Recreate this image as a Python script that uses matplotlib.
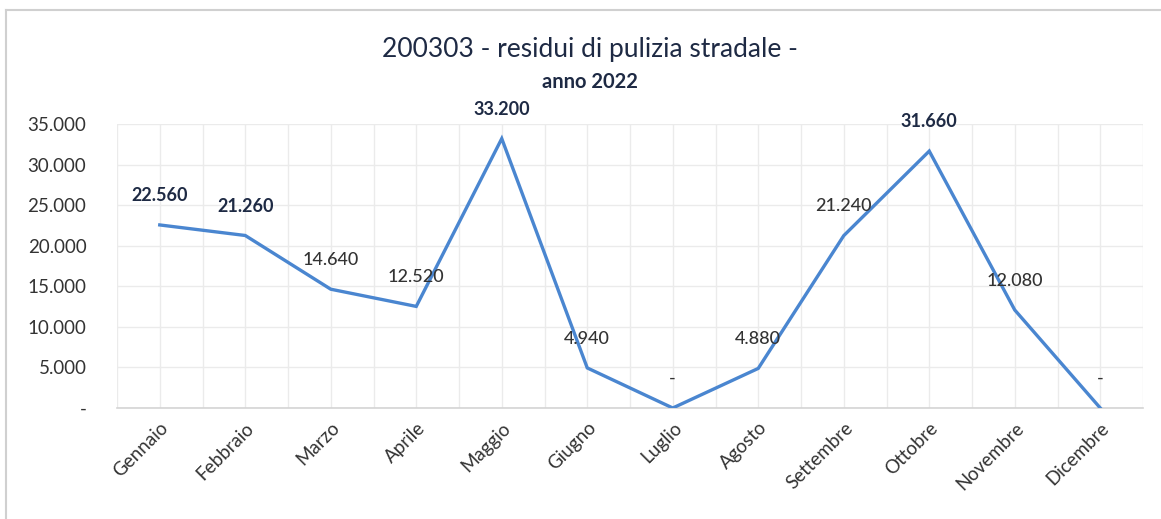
import matplotlib.pyplot as plt
from matplotlib.lines import Line2D
from matplotlib.ticker import FuncFormatter, MultipleLocator

MONTHS = [
    "Gennaio", "Febbraio", "Marzo", "Aprile", "Maggio", "Giugno",
    "Luglio", "Agosto", "Settembre", "Ottobre", "Novembre", "Dicembre",
]
VALUES = [22560, 21260, 14640, 12520, 33200, 4940, 0, 4880, 21240, 31660, 12080, 0]
BOLD_LABELS = {"Gennaio", "Febbraio", "Maggio", "Ottobre"}

TITLE = "200303 - residui di pulizia stradale -"
SUBTITLE = "anno 2022"

LINE_COLOR = "#4a86d0"
GRID_COLOR = "#ebebeb"
TEXT_COLOR = "#333333"
TITLE_COLOR = "#1e2a44"

plt.rcParams["font.family"] = ["Lato", "DejaVu Sans"]


def it_thousands(v, _pos=None):
    if v == 0:
        return "-"
    return f"{v:,.0f}".replace(",", ".")


fig = plt.figure(figsize=(11.61, 5.19), dpi=100)
ax = fig.add_axes([117 / 1161, 111 / 519, 1026 / 1161, 284 / 519])

x = list(range(len(MONTHS)))
ax.plot(x, VALUES, color=LINE_COLOR, linewidth=2.4, solid_joinstyle="miter", zorder=3)

for xi, (m, v) in enumerate(zip(MONTHS, VALUES)):
    bold = m in BOLD_LABELS
    ax.annotate(
        it_thousands(v),
        (xi, v),
        xytext=(0, 21),
        textcoords="offset points",
        ha="center",
        va="center",
        fontsize=13,
        fontweight="bold" if bold else "medium",
        color=TITLE_COLOR if bold else TEXT_COLOR,
        zorder=4,
    )

ax.set_xlim(-0.5, len(MONTHS) - 0.5)
ax.set_ylim(0, 35000)
ax.yaxis.set_major_locator(MultipleLocator(5000))
ax.yaxis.set_major_formatter(FuncFormatter(it_thousands))
ax.set_xticks(x)
ax.set_xticks([i - 0.5 for i in range(len(MONTHS) + 1)], minor=True)
ax.set_xticklabels(MONTHS, rotation=45, ha="right", rotation_mode="anchor", fontsize=13.5, color=TEXT_COLOR)

ax.grid(True, which="major", color=GRID_COLOR, linewidth=1.0, zorder=0)
ax.grid(True, which="minor", axis="x", color=GRID_COLOR, linewidth=1.0, zorder=0)
ax.tick_params(axis="both", which="both", length=0)
ax.tick_params(axis="y", labelsize=13.5, labelcolor=TEXT_COLOR, pad=22)
ax.tick_params(axis="x", pad=8)

for side in ["top", "right", "left"]:
    ax.spines[side].set_visible(False)
ax.spines["bottom"].set_color("#d4d4d4")
ax.spines["bottom"].set_linewidth(1.2)

fig.text(590 / 1161, 1 - 50 / 519, TITLE, ha="center", va="center", fontsize=19, color=TITLE_COLOR)
fig.text(590 / 1161, 1 - 82 / 519, SUBTITLE, ha="center", va="center", fontsize=14.5,
         fontweight="bold", color=TITLE_COLOR)

# outer chart frame (top and left edges visible in the scan)
fig.add_artist(Line2D([6 / 1161, 1], [1 - 10 / 519, 1 - 10 / 519], transform=fig.transFigure,
                      color="#d0d0d0", linewidth=1.5))
fig.add_artist(Line2D([6 / 1161, 6 / 1161], [0, 1 - 10 / 519], transform=fig.transFigure,
                      color="#d0d0d0", linewidth=1.5))

fig.savefig("out.png", dpi=100)
